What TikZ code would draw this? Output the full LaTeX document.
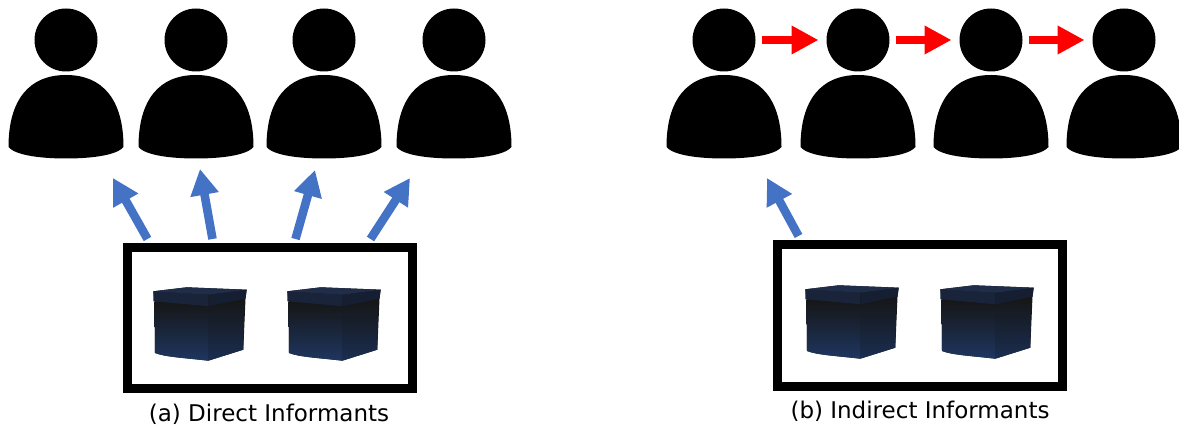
\documentclass[tikz,border=0pt]{standalone}
\usepackage{fontspec}
\setmainfont{DejaVu Sans}
\usepackage{tikz}
\usetikzlibrary{calc,arrows.meta}
\definecolor{infoblue}{HTML}{4472C4}
\definecolor{passred}{HTML}{FF0000}
\definecolor{lidtop}{HTML}{1F2D48}
\definecolor{lidside}{HTML}{19243A}
\definecolor{boxdark}{HTML}{161616}
\definecolor{boxmid}{HTML}{18191D}
\definecolor{boxblue}{HTML}{1E3660}
\tikzset{
  head/.style={circle, fill=black, inner sep=0pt, minimum size=31.5pt},
  body/.style={fill=black},
  panel/.style={draw=black, line width=4.5pt, inner sep=0pt, minimum width=142.5pt},
  infoarr/.style={draw=infoblue, line width=4.3pt, -{Triangle[length=13pt, width=13.5pt]}},
  passarr/.style={draw=passred, line width=4.3pt, -{Triangle[length=13.5pt, width=13.5pt]},
    shorten <=2.8pt, shorten >=3.8pt},
  caption/.style={font=\fontsize{11.5}{13}\selectfont, anchor=base}
}
% one person: head node #1 at x=#2, body below it
\newcommand\person[2]{%
  \node[head] (#1) at (#2,40) {};
  \fill[body] (#2-57.5,147) .. controls (#2-57.5,100) and (#2-37,75) .. (#2,75)
    .. controls (#2+37,75) and (#2+57.5,100) .. (#2+57.5,147)
    .. controls (#2+50,156) and (#2+22,158.5) .. (#2,158.5)
    .. controls (#2-22,158.5) and (#2-50,156) .. cycle;
}
% a closed gift box, placed by the corner (#1,#2) of its frame
\newcommand\giftbox[2]{%
  \begin{scope}[shift={(#1,#2)}]
    \fill[boxdark] (8.3,13.3) -- (41.7,9.3) -- (101.7,11.7) -- (100.5,20.7)
      -- (98.3,71.7) -- (63.3,82.7) .. controls (40,80) and (20,79) .. (10,75)
      -- (9.5,23.5) -- cycle;
    \shade[top color=boxdark, middle color=boxmid, bottom color=boxblue]
      (9.5,23.5) -- (63.3,28.3) -- (63.3,82.7)
      .. controls (40,80) and (20,79) .. (10,75) -- cycle;
    \shade[top color=boxdark, middle color=boxdark, bottom color=boxblue!85!black]
      (63.3,28.3) -- (99.5,20.9) -- (98.3,71.7) -- (63.3,82.7) -- cycle;
    \fill[lidside] (8.3,13.3) -- (63.3,16.7) -- (63.3,28.3) -- (8.3,23.3) -- cycle;
    \fill[lidside!85!black] (63.3,16.7) -- (101.7,11.7) -- (100.5,20.7) -- (63.3,28.3) -- cycle;
    \fill[lidtop] (8.3,13.3) -- (41.7,9.3) -- (101.7,11.7) -- (63.3,16.7) -- cycle;
  \end{scope}
}

\begin{document}
\begin{tikzpicture}[x=0.5pt, y=-0.5pt]
  \useasboundingbox (0,0) rectangle (1179,432);

  % (a) everyone is told directly
  \person{a1}{66}
  \person{a2}{196}
  \person{a3}{324}
  \person{a4}{454}

  \coordinate (ta1) at (113,178);
  \coordinate (ta2) at (200,169);
  \coordinate (ta3) at (315,170);
  \coordinate (ta4) at (410,178);

  \node[panel, minimum height=70.5pt] (boxa) at (270,318) {};
  \draw[infoarr] ($(boxa.north west)+(24.5,-4)$) -- (ta1);
  \draw[infoarr] ($(boxa.north west)+(89.5,-4)$) -- (ta2);
  \draw[infoarr] ($(boxa.north west)+(172.5,-4)$) -- (ta3);
  \draw[infoarr] ($(boxa.north west)+(247.5,-4)$) -- (ta4);
  \node[panel, minimum height=70.5pt] at (boxa) {};
  \giftbox{145}{278}
  \giftbox{279}{278}
  \node[caption] (capa) at (269,422) {(a) Direct Informants};

  % (b) only the first one is told, then it is passed on
  \person{b1}{724}
  \person{b2}{858}
  \person{b3}{991}
  \person{b4}{1124}
  \draw[passarr] (b1) -- (b2);
  \draw[passarr] (b2) -- (b3);
  \draw[passarr] (b3) -- (b4);

  \coordinate (tb1) at (767,178);
  \node[panel, minimum height=71pt] (boxb) at (920,315.5) {};
  \draw[infoarr] ($(boxb.north west)+(25.5,-4)$) -- (tb1);
  \node[panel, minimum height=71pt] at (boxb) {};
  \giftbox{797}{276}
  \giftbox{932}{276}
  \node[caption] (capb) at (920,419) {(b) Indirect Informants};
\end{tikzpicture}
\end{document}
